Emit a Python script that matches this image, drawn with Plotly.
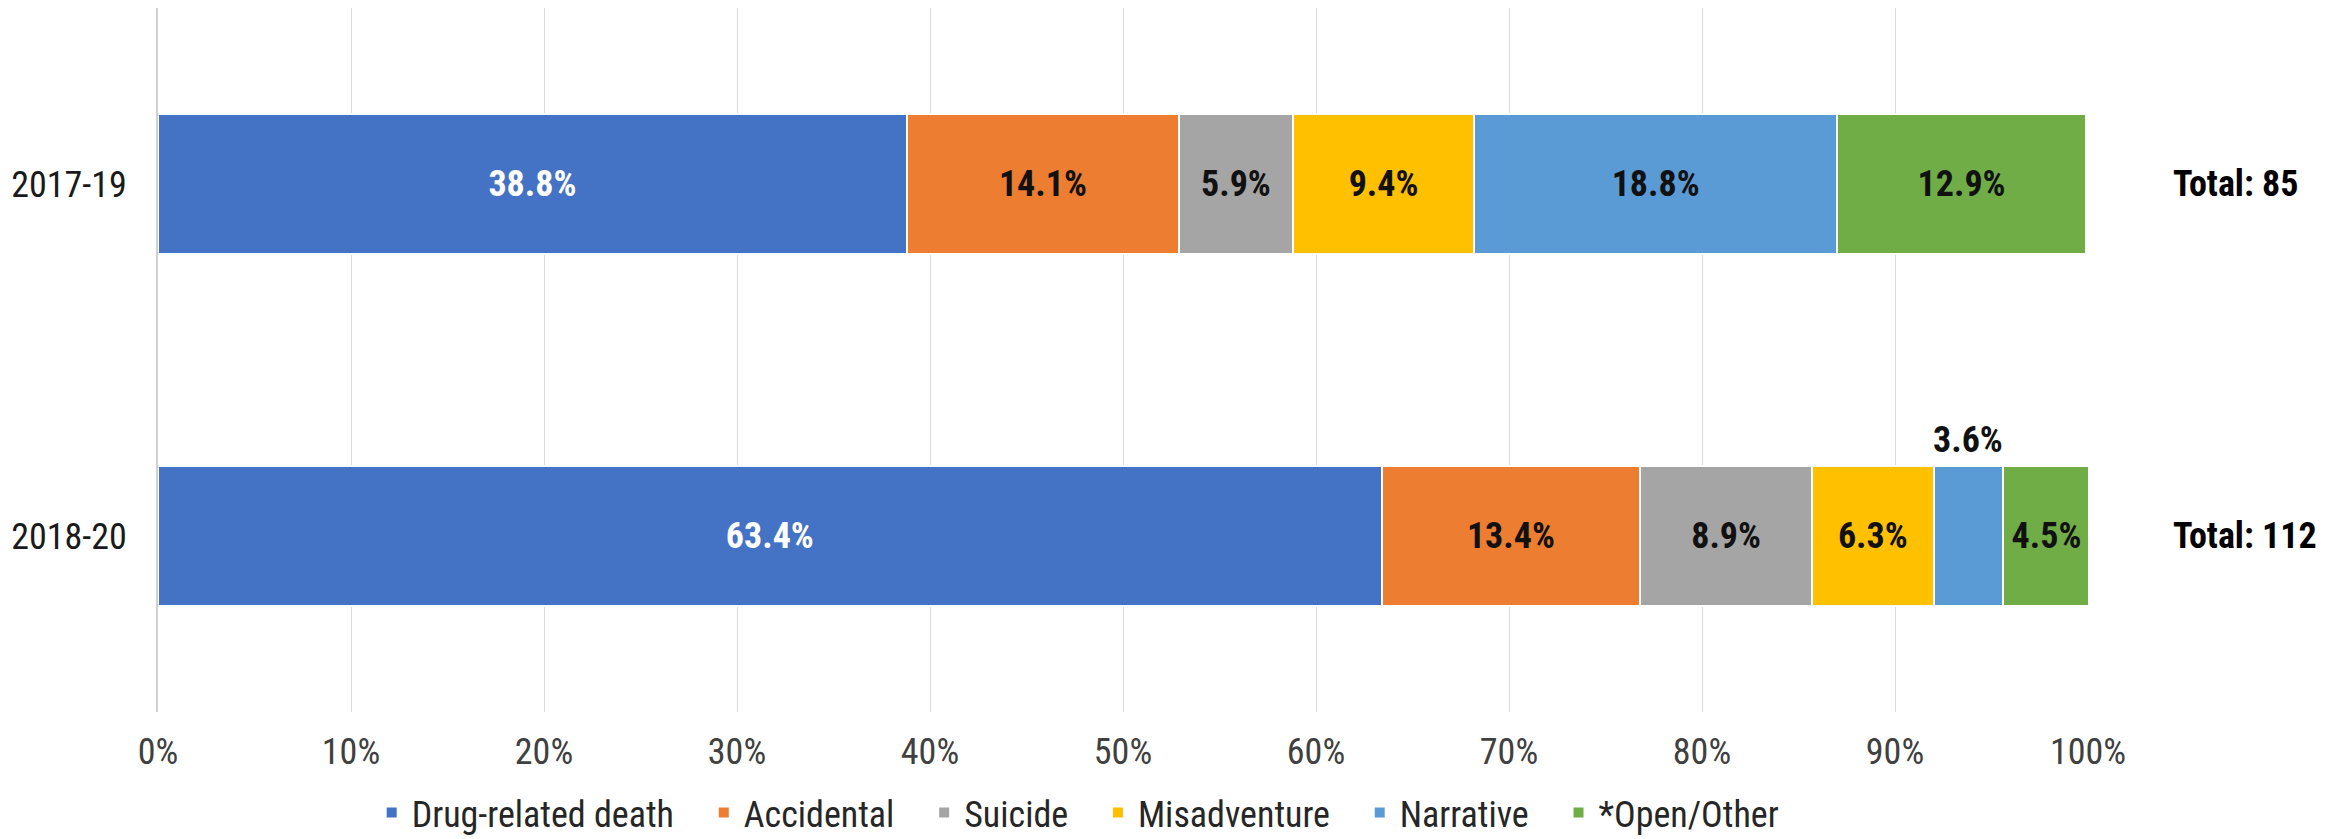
import plotly.graph_objects as go

periods = ["2017-19", "2018-20"]
totals = [85, 112]
series_names = ["Drug-related death", "Accidental", "Suicide", "Misadventure", "Narrative", "*Open/Other"]
drug_related = [38.8, 63.4]
accidental = [14.1, 13.4]
suicide = [5.9, 8.9]
misadventure = [9.4, 6.3]
narrative = [18.8, 3.6]
open_other = [12.9, 4.5]
x_ticks = [0, 10, 20, 30, 40, 50, 60, 70, 80, 90, 100]
x_tick_labels = [f"{v}%" for v in x_ticks]

series_values = [drug_related, accidental, suicide, misadventure, narrative, open_other]
colors = ["#4472C4", "#ED7D31", "#A5A5A5", "#FFC000", "#5B9BD5", "#70AD47"]
text_colors = ["white", "#111111", "#111111", "#111111", "#111111", "#111111"]

FONT = "Liberation Sans Narrow, Arial Narrow, Roboto Condensed, Lato, sans-serif"
FS = 36
PAD = "\u00a0\u00a0\u00a0"

fig = go.Figure()
for name, vals, col, tcol in zip(series_names, series_values, colors, text_colors):
    texts = []
    for p, v in zip(periods, vals):
        # narrow narrative segment in 2018-20 is labelled above the bar
        if name == "Narrative" and p == "2018-20":
            texts.append("")
        else:
            texts.append(f"<b>{v:.1f}%</b>")
    fig.add_trace(go.Bar(
        y=periods, x=vals, name=name + PAD, orientation="h",
        marker=dict(color=col, line=dict(color="white", width=2)),
        text=texts, textposition="inside", insidetextanchor="middle",
        textangle=0, constraintext="none",
        textfont=dict(family=FONT, size=FS, color=tcol),
        width=0.395,
    ))

# label above the small narrative segment
cum = drug_related[1] + accidental[1] + suicide[1] + misadventure[1]
fig.add_annotation(x=cum + narrative[1] / 2, y=periods[1], xref="x", yref="y",
                   text=f"<b>{narrative[1]:.1f}%</b>", showarrow=False, yshift=96,
                   font=dict(family=FONT, size=FS, color="#111111"))

for p, t in zip(periods, totals):
    fig.add_annotation(x=1.043, y=p, xref="paper", yref="y", xanchor="left",
                       text=f"<b>Total: {t}</b>", showarrow=False,
                       font=dict(family=FONT, size=FS, color="black"))

fig.update_layout(
    barmode="stack",
    width=2351, height=839,
    margin=dict(l=158, r=263, t=8, b=127, autoexpand=False),
    plot_bgcolor="white", paper_bgcolor="white",
    font=dict(family=FONT, size=FS, color="#404040"),
    legend=dict(orientation="h", x=0.483, xanchor="center", y=-0.143, yanchor="middle",
                font=dict(family=FONT, size=FS, color="#262626"),
                itemwidth=30, traceorder="normal", itemclick=False),
    showlegend=True,
)
fig.update_xaxes(range=[0, 100], tickvals=x_ticks, ticktext=x_tick_labels,
                 showgrid=True, gridcolor="#D9D9D9", gridwidth=1,
                 zeroline=False, showline=False, ticks="", ticklabelstandoff=15,
                 tickfont=dict(family=FONT, size=FS, color="#404040"))
fig.update_yaxes(autorange="reversed", showgrid=False, zeroline=False,
                 showline=True, linecolor="#D0D0D0", linewidth=2, ticks="",
                 ticklabelstandoff=22,
                 tickfont=dict(family=FONT, size=FS, color="#1a1a1a"))

fig.write_html("out.html", config={"displayModeBar": False},
               post_script="document.body.style.margin='0';document.body.style.overflow='hidden';")
